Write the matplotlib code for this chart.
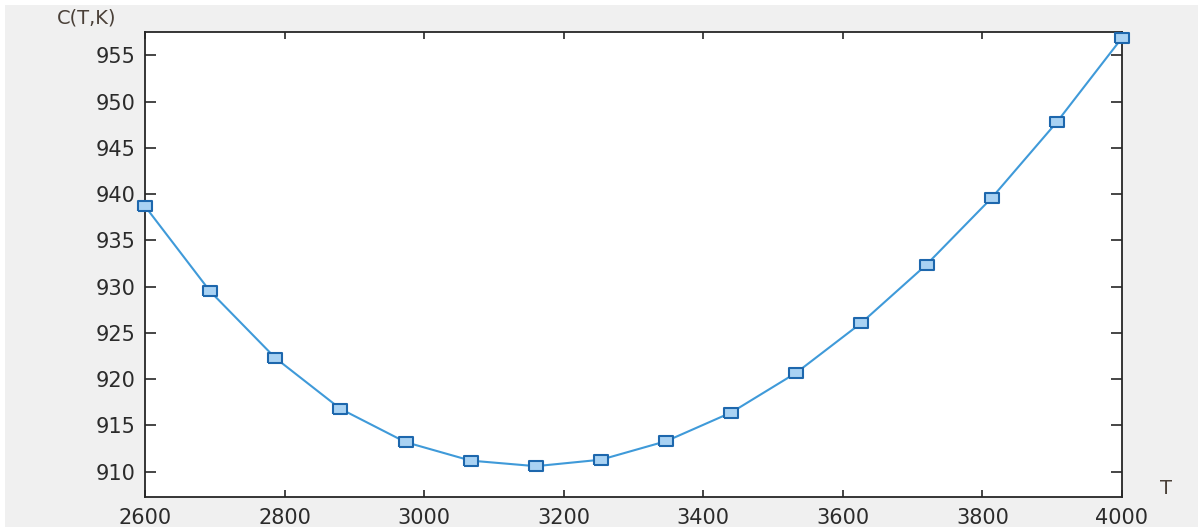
import matplotlib
matplotlib.use("Agg")
import matplotlib.pyplot as plt
from matplotlib.patches import Rectangle

T_values = [2600.0, 2693.3, 2786.7, 2880.0, 2973.3, 3066.7, 3160.0, 3253.3,
            3346.7, 3440.0, 3533.3, 3626.7, 3720.0, 3813.3, 3906.7, 4000.0]
C_values = [938.7, 929.5, 922.3, 916.8, 913.2, 911.2, 910.6, 911.3,
            913.3, 916.4, 920.7, 926.1, 932.4, 939.6, 947.8, 956.9]
x_ticks = [2600, 2800, 3000, 3200, 3400, 3600, 3800, 4000]
y_ticks = [910, 915, 920, 925, 930, 935, 940, 945, 950, 955]

plt.rcParams['font.family'] = ['DejaVu Sans']
text_col = '#2b2b2b'

fig = plt.figure(figsize=(11.98, 5.32), dpi=100, facecolor='white')
fig.patches.append(Rectangle((5/1198, 5/532), 1 - 5/1198, 1 - 10/532,
                             transform=fig.transFigure, facecolor='#f0f0f0',
                             edgecolor='none', zorder=-10))

ax = fig.add_axes([145/1198, 1 - 496.7/532, (1122 - 145)/1198, (496.7 - 32.3)/532])
ax.set_facecolor('white')

rect_marker = [(-1, -0.62), (1, -0.62), (1, 0.62), (-1, 0.62), (-1, -0.62)]
ax.plot(T_values, C_values, color='#3f9ad9', lw=1.5, zorder=2)
ax.plot(T_values, C_values, linestyle='none', marker=rect_marker, ms=10.5,
        mfc='#a9d2f3', mec='#1d67ad', mew=1.5, clip_on=False, zorder=3)

ax.set_xlim(2600, 4000)
ax.set_ylim(907.3, 957.5)
ax.set_xticks(x_ticks)
ax.set_yticks(y_ticks)
ax.tick_params(axis='both', direction='in', top=True, right=True,
               colors='#262626', labelcolor=text_col, labelsize=15, width=1.2)
ax.tick_params(axis='x', length=5, pad=8)
ax.tick_params(axis='y', length=8, pad=7)
for s in ax.spines.values():
    s.set_color('#262626')
    s.set_linewidth(1.3)

fig.text(57/1198, 1 - 18/532, 'C(T,K)', fontsize=14, color='#4a4038',
         ha='left', va='center')
fig.text(1166/1198, 1 - 488/532, 'T', fontsize=14, color='#4a4038',
         ha='center', va='center')

fig.savefig('out.png', dpi=100, facecolor=fig.get_facecolor())
